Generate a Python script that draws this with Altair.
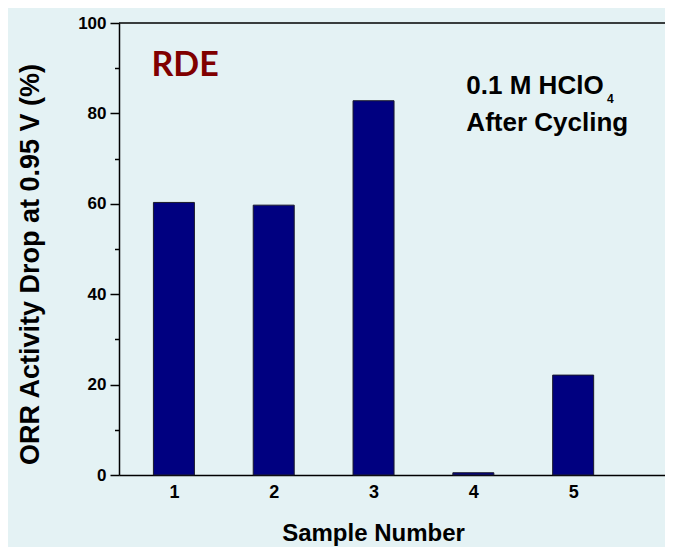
import altair as alt
import pandas as pd

samples = [1, 2, 3, 4, 5]
activity_drop = [60.3, 59.7, 82.8, 0.5, 22.1]

y_ticks = [0, 10, 20, 30, 40, 50, 60, 70, 80, 90, 100]
x_labels = [1, 2, 3, 4, 5]

BG = "#E4F2F4"
FONT = "Liberation Sans"

df = pd.DataFrame({"sample": samples, "drop": activity_drop})

x_scale = alt.Scale(domain=[0.5, 5.87], nice=False, zero=False)
y_scale = alt.Scale(domain=[0, 100], nice=False)

bars = alt.Chart(df).mark_bar(size=41, color="#000080", stroke="#1a1a2a", strokeWidth=1).encode(
    x=alt.X("sample:Q", scale=x_scale,
            axis=alt.Axis(values=x_labels, title="Sample Number", ticks=False, format="d",
                          labelFontSize=18, labelFont=FONT, labelFontWeight="bold",
                          labelColor="black", labelPadding=8, labelFlush=False,
                          domainColor="black", domainWidth=1.5, grid=False,
                          titleFontSize=24, titleFont=FONT, titleFontWeight="bold",
                          titleColor="black", titleX=254, titleY=65,
                          titleBaseline="alphabetic", titleAlign="center")),
    y=alt.Y("drop:Q", scale=y_scale,
            axis=alt.Axis(values=y_ticks, title="ORR Activity Drop at 0.95 V (%)",
                          labelExpr="datum.value % 20 === 0 ? datum.label : ''",
                          tickSize={"condition": {"test": "datum.value % 20 === 0", "value": 9}, "value": 4.5},
                          tickColor="black", tickWidth=1.5,
                          labelFontSize=17, labelFont=FONT, labelFontWeight="bold",
                          labelColor="black", labelPadding=4, labelFlush=False,
                          domainColor="black", domainWidth=1.5, grid=False,
                          titleFontSize=27, titleFont=FONT, titleFontWeight="bold",
                          titleColor="black", titleAngle=270, titleX=-89, titleY=241,
                          titleBaseline="middle", titleAlign="center")),
)

top_line = alt.Chart(pd.DataFrame({"v": [100]})).mark_rule(color="black", strokeWidth=1.5).encode(
    y=alt.Y("v:Q", scale=y_scale)
)

ann = pd.DataFrame({
    "x": [0.775, 3.93, 3.93, 5.34],
    "y": [88.3, 84.3, 76.0, 82.3],
    "t": ["RDE", "0.1 M HClO", "After Cycling", "4"],
    "font": ["Lato", FONT, FONT, FONT],
    "size": [34, 26, 26, 12],
    "color": ["#800000", "black", "black", "black"],
})

def text_layer(row):
    return alt.Chart(pd.DataFrame([row])).mark_text(
        text=row["t"], font=row["font"], fontSize=row["size"], fontWeight="bold",
        color=row["color"], align="left", baseline="alphabetic"
    ).encode(
        x=alt.X("x:Q", scale=x_scale),
        y=alt.Y("y:Q", scale=y_scale),
    )

texts = [text_layer(r) for r in ann.to_dict("records")]

chart = alt.layer(bars, top_line, *texts).properties(
    width=546, height=452,
    padding={"left": 111, "top": 15, "right": 0, "bottom": 72},
    autosize="none",
    background=BG,
).configure_view(stroke=None)

chart.save("out.html", embed_options={"renderer": "svg", "actions": False})
